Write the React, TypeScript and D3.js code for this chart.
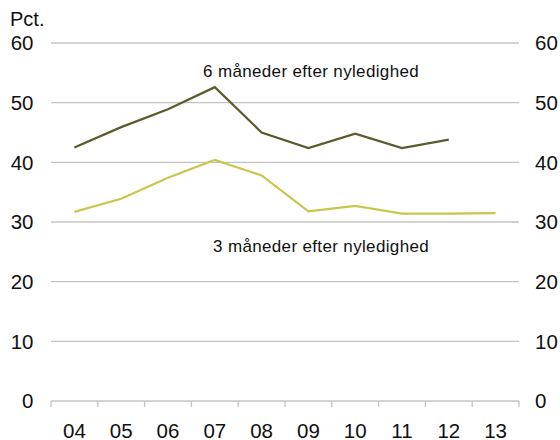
import React, { useEffect, useRef } from "react";
import * as d3 from "d3";

const years = ["04", "05", "06", "07", "08", "09", "10", "11", "12", "13"];
const sixMonths = [42.5, 45.9, 48.9, 52.6, 45.0, 42.4, 44.8, 42.4, 43.8, null];
const threeMonths = [31.7, 33.9, 37.4, 40.4, 37.8, 31.8, 32.7, 31.4, 31.4, 31.5];
const yTicks = [0, 10, 20, 30, 40, 50, 60];

const darkColor = "#5e5a2c";
const lightColor = "#c9c64c";
const gridColor = "#c4c4c4";

const App: React.FC = () => {
  const svgRef = useRef<SVGSVGElement | null>(null);

  useEffect(() => {
    const svg = d3.select(svgRef.current);
    svg.selectAll("*").remove();

    const left = 51;
    const right = 519;
    const top = 43;
    const bottom = 401;
    const font = "'Liberation Sans', Arial, sans-serif";

    const x = d3.scaleBand<string>().domain(years).range([left, right]);
    const y = d3.scaleLinear().domain([0, 60]).range([bottom, top]);

    // gridlines
    svg.append("g")
      .selectAll("line")
      .data(yTicks.filter((t) => t > 0))
      .join("line")
      .attr("x1", left)
      .attr("x2", right)
      .attr("y1", (d) => y(d))
      .attr("y2", (d) => y(d))
      .attr("stroke", gridColor)
      .attr("stroke-width", 1.3);

    // x axis
    const xAxis = svg.append("g").attr("transform", `translate(0,${bottom})`);
    xAxis.append("line")
      .attr("x1", left).attr("x2", right)
      .attr("stroke", gridColor).attr("stroke-width", 1.3);
    xAxis.selectAll("line.tick")
      .data(d3.range(years.length + 1))
      .join("line")
      .attr("class", "tick")
      .attr("x1", (i) => left + i * x.step())
      .attr("x2", (i) => left + i * x.step())
      .attr("y1", 0).attr("y2", 6)
      .attr("stroke", gridColor).attr("stroke-width", 1.3);
    xAxis.selectAll("text")
      .data(years)
      .join("text")
      .attr("x", (d) => x(d)! + x.bandwidth() / 2)
      .attr("y", 36.5)
      .attr("text-anchor", "middle")
      .style("font-family", font)
      .style("font-size", "20.5px")
      .attr("fill", "#111")
      .text((d) => d);

    // y labels left and right
    svg.append("g")
      .selectAll("text")
      .data(yTicks)
      .join("text")
      .attr("x", 33.5)
      .attr("y", (d) => y(d) + 7.3)
      .attr("text-anchor", "end")
      .style("font-family", font)
      .style("font-size", "20.5px")
      .attr("fill", "#111")
      .text((d) => d);
    svg.append("g")
      .selectAll("text")
      .data(yTicks)
      .join("text")
      .attr("x", 535)
      .attr("y", (d) => y(d) + 7.3)
      .attr("text-anchor", "start")
      .style("font-family", font)
      .style("font-size", "20.5px")
      .attr("fill", "#111")
      .text((d) => d);

    svg.append("text")
      .attr("x", 10).attr("y", 26)
      .style("font-family", font)
      .style("font-size", "20px")
      .attr("fill", "#111")
      .text("Pct.");

    const line = d3.line<number | null>()
      .defined((d) => d != null)
      .x((_, i) => x(years[i])! + x.bandwidth() / 2)
      .y((d) => y(d as number));

    svg.append("path")
      .datum(threeMonths)
      .attr("fill", "none")
      .attr("stroke", lightColor)
      .attr("stroke-width", 2.2)
      .attr("d", line);
    svg.append("path")
      .datum(sixMonths)
      .attr("fill", "none")
      .attr("stroke", darkColor)
      .attr("stroke-width", 2.2)
      .attr("d", line);

    svg.append("text")
      .attr("x", 203).attr("y", 77)
      .style("font-family", font)
      .style("font-size", "17px")
      .style("letter-spacing", "0.35px")
      .attr("fill", "#111")
      .text("6 måneder efter nyledighed");
    svg.append("text")
      .attr("x", 213).attr("y", 252)
      .style("font-family", font)
      .style("font-size", "17px")
      .style("letter-spacing", "0.35px")
      .attr("fill", "#111")
      .text("3 måneder efter nyledighed");
  }, []);

  return (
    <svg
      ref={svgRef}
      width={560}
      height={440}
      style={{ position: "absolute", left: 0, top: 0, background: "#fff" }}
    />
  );
};

export default App;
